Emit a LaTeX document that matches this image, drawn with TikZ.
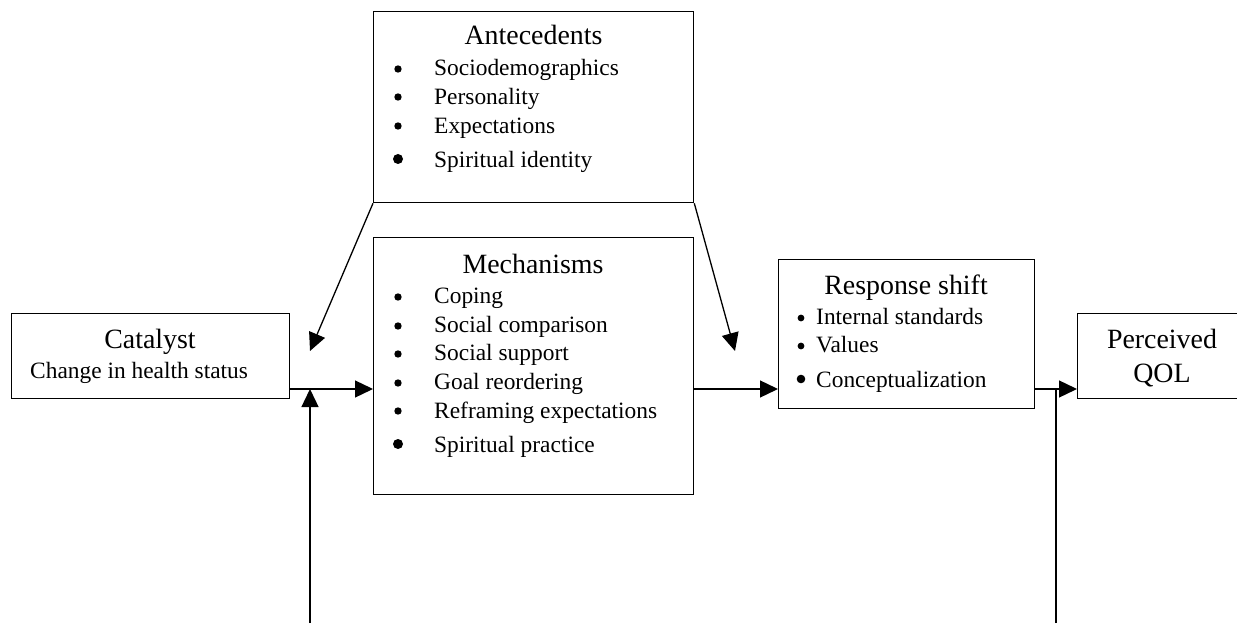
\documentclass[tikz,border=0pt]{standalone}
\usepackage{fontspec}
\setmainfont{Liberation Serif}
\usetikzlibrary{arrows.meta}
\begin{document}
\begin{tikzpicture}[x=1bp,y=-1bp,
  box/.style={draw, line width=1.3bp, rectangle, inner sep=0pt, anchor=north west},
  ttl/.style={inner sep=0pt, anchor=base, font=\fontsize{28}{30}\selectfont},
  itm/.style={inner sep=0pt, anchor=base west, font=\fontsize{23.5}{26}\selectfont},
  dot/.style={circle, fill, inner sep=0pt, minimum size=#1},
  dot/.default=7.4bp,
  conn/.style={line width=1.3bp},
  arr/.style={line width=1.3bp, -{Triangle[length=18bp,width=17bp]}}]
\clip (0,0) rectangle (1237,626);
\useasboundingbox (0,0) rectangle (1237,626);
% boxes
\node[box, minimum width=320bp, minimum height=191bp] (ante) at (373,11) {};
\node[box, minimum width=320bp, minimum height=257bp] (mech) at (373,237) {};
\node[box, minimum width=278bp, minimum height=85bp] (cat) at (11,313) {};
\node[box, minimum width=256bp, minimum height=149bp] (resp) at (778,259) {};
\node[box, minimum width=220bp, minimum height=85bp] (qol) at (1077,313) {};
% Antecedents
\node[ttl] (anteT) at (533.5,45) {Antecedents};
\node[dot] (ad1) at (398,69) {};
\node[dot] (ad2) at (398,97) {};
\node[dot] (ad3) at (398,126) {};
\node[dot=10bp] (ad4) at (398,159) {};
\node[itm] (ai1) at (434,76) {Sociodemographics};
\node[itm] (ai2) at (434,105) {Personality};
\node[itm] (ai3) at (434,134) {Expectations};
\node[itm] (ai4) at (434,168) {Spiritual identity};
% Mechanisms
\node[ttl] (mechT) at (533,274) {Mechanisms};
\node[dot] (md1) at (398,297) {};
\node[dot] (md2) at (398,326) {};
\node[dot] (md3) at (398,354) {};
\node[dot] (md4) at (398,383) {};
\node[dot] (md5) at (398,411) {};
\node[dot=10bp] (md6) at (398,444) {};
\node[itm] (mi1) at (434,304) {Coping};
\node[itm] (mi2) at (434,333) {Social comparison};
\node[itm] (mi3) at (434,361) {Social support};
\node[itm] (mi4) at (434,389) {Goal reordering};
\node[itm] (mi5) at (434,418) {Reframing expectations};
\node[itm] (mi6) at (434,452) {Spiritual practice};
% Catalyst
\node[ttl] (catT) at (150,349) {Catalyst};
\node[itm] (catS) at (30,378) {Change in health status};
% Response shift
\node[ttl] (respT) at (906,295) {Response shift};
\node[dot=6.8bp] (rd1) at (801,318) {};
\node[dot=6.8bp] (rd2) at (801,346) {};
\node[dot=8.6bp] (rd3) at (801,379) {};
\node[itm] (ri1) at (816,325) {Internal standards};
\node[itm] (ri2) at (816,353) {Values};
\node[itm] (ri3) at (816,387) {Conceptualization};
% QOL
\node[ttl] (qolT1) at (1162,349) {Perceived};
\node[ttl] (qolT2) at (1162,382) {QOL};
% junctions
\coordinate (j1) at (310,389);
\coordinate (j2) at (1056,389);
\coordinate (b1) at (310,623);
\coordinate (b2) at (1056,623);
\coordinate (t1) at (310,351);
\coordinate (t2) at (735,351);
% connectors
\draw[arr] (cat.east |- j1) -- (mech.west |- j1);
\draw[arr] (b1) -- (j1);
\draw[arr] (ante.south west) -- (t1);
\draw[arr] (ante.south east) -- (t2);
\draw[arr] (mech.east |- j1) -- (resp.west |- j1);
\draw[arr] (resp.east |- j2) -- (qol.west |- j2);
\draw[conn] (b2) -- (j2);
\end{tikzpicture}
\end{document}
